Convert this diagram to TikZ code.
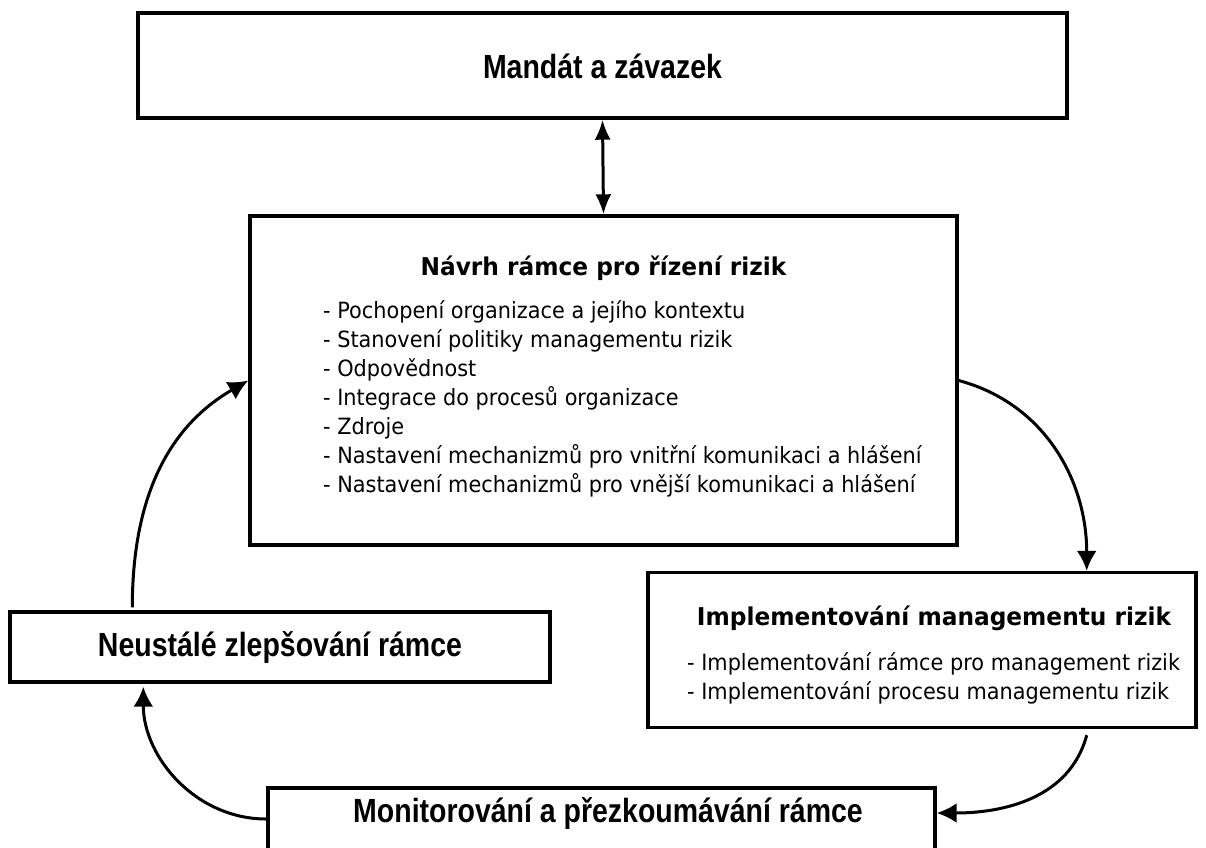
\documentclass[tikz,border=0pt]{standalone}
\usepackage{fontspec}
\setmainfont{DejaVu Sans}
\newfontfamily\narrowbold[FakeStretch=0.85]{Liberation Sans Bold}
\newfontfamily\itemfont[FakeStretch=0.93]{DejaVu Sans}
\newfontfamily\wideheadfont[FakeStretch=0.95]{DejaVu Sans Bold}
\usetikzlibrary{arrows.meta}

\tikzset{
  box/.style={draw=black, line width=3.4pt, fill=white, rectangle, inner sep=0pt},
  headcond/.style={font=\narrowbold\fontsize{33.5}{40}\selectfont, inner sep=0pt},
  headwide/.style={font=\wideheadfont\fontsize{24.5}{29}\selectfont, inner sep=0pt},
  itemlist/.style={font=\itemfont\fontsize{22.4}{29}\selectfont, align=left, inner sep=0pt, anchor=west},
  conn/.style={line width=3pt, -{Latex[length=20pt,width=20pt]}},
  biconn/.style={line width=3pt, {Latex[length=20pt,width=16pt]}-{Latex[length=20pt,width=16pt]}}
}

\begin{document}
\begin{tikzpicture}[x=1pt, y=-1pt]
\useasboundingbox[fill=white] (0,0) rectangle (1206,847);

% boxes and their texts
\node[box, minimum width=929pt, minimum height=105pt] (mandat) at (602.5,65.5) {};
\node[headcond] (mandattxt) at (602.5,66) {Mandát a závazek};

\node[box, minimum width=707pt, minimum height=329pt] (navrh) at (603.5,380.5) {};
\node[headwide] (navrhtxt) at (603.5,268) {Návrh rámce pro řízení rizik};
\node[itemlist] (navrhlist) at (323,399) {%
- Pochopení organizace a jejího kontextu\\
- Stanovení politiky managementu rizik\\
- Odpovědnost\\
- Integrace do procesů organizace\\
- Zdroje\\
- Nastavení mechanizmů pro vnitřní komunikaci a hlášení\\
- Nastavení mechanizmů pro vnější komunikaci a hlášení};

\node[box, minimum width=540pt, minimum height=70pt] (neust) at (280,647) {};
\node[headcond] (neusttxt) at (280,647) {Neustálé zlepšování rámce};

\node[box, minimum width=548pt, minimum height=155pt] (impl) at (922,650) {};
\node[headwide] (impltxt) at (934,618) {Implementování managementu rizik};
\node[itemlist] (impllist) at (687,678) {%
- Implementování rámce pro management rizik\\
- Implementování procesu managementu rizik};

\node[box, minimum width=667pt, minimum height=74pt] (monit) at (601.5,825) {};
\node[headcond] (monittxt) at (608,813) {Monitorování a přezkoumávání rámce};

% connectors of the cycle
\draw[biconn] (mandat.south) -- (navrh.north);
\draw[conn] (navrh.east) to[out=-15,in=90] ([xshift=-111pt]impl.north east);
\draw[conn] ([xshift=-111pt,yshift=-6pt]impl.south east) to[out=-105,in=0] ([yshift=12pt]monit.east);
\draw[conn] ([yshift=6pt]monit.west) to[out=180,in=-90] ([xshift=135pt,yshift=-3pt]neust.south west);
\draw[conn] ([xshift=124pt,yshift=3pt]neust.north west) to[out=90,in=210] (navrh.west);
\end{tikzpicture}
\end{document}
